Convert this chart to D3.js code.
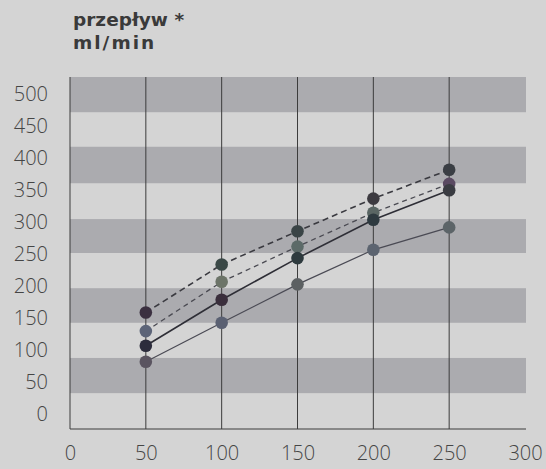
<!DOCTYPE html>
<html><head><meta charset="utf-8">
<script src="https://cdn.jsdelivr.net/npm/d3@7"></script>
<style>
html,body{margin:0;padding:0;background:#d3d3d3;}
svg{display:block;}
</style></head>
<body>
<script>
const xTicks = [0, 50, 100, 150, 200, 250, 300];
const yTicks = [0, 50, 100, 150, 200, 250, 300, 350, 400, 450, 500];
const xValues = [50, 100, 150, 200, 250];
const seriesA = [157, 232, 284, 335, 380]; // dashed, top
const seriesB = [128, 205, 260, 313, 358]; // dashed, second
const seriesC = [105, 177, 242, 302, 348]; // solid, dark
const seriesD = [80, 141, 201, 255, 290];  // solid, lower
const bandRanges = [[470, 525], [359, 416], [250, 303], [141, 195], [31, 86]];
const titleLines = ["przepływ *", "ml/min"];

const W = 546, H = 469;
const svg = d3.select("body").append("svg").attr("width", W).attr("height", H);

const x = d3.scaleLinear().domain([0, 300]).range([70, 525]);
const y = d3.scaleLinear().domain([-25, 525]).range([429, 77]);

// paper background
svg.append("rect").attr("width", W).attr("height", H).attr("fill", "#d4d4d4");

// bands
svg.selectAll("rect.band").data(bandRanges).join("rect")
  .attr("class", "band")
  .attr("x", x(0)).attr("width", 526 - x(0))
  .attr("y", d => y(d[1])).attr("height", d => y(d[0]) - y(d[1]))
  .attr("fill", "#ababaf");

// vertical grid lines
svg.selectAll("line.vg").data([0, 50, 100, 150, 200, 250]).join("line")
  .attr("class", "vg")
  .attr("x1", d => x(d)).attr("x2", d => x(d))
  .attr("y1", y(525)).attr("y2", y(-25))
  .attr("stroke", "#3c3c3c").attr("stroke-width", 1);

// bottom axis line
svg.append("line").attr("x1", x(0)).attr("x2", 526).attr("y1", y(-25)).attr("y2", y(-25))
  .attr("stroke", "#3c3c3c").attr("stroke-width", 1.2);

// y axis labels
const yAxis = d3.axisLeft(y).tickValues(yTicks).tickSize(0).tickPadding(0);
const gy = svg.append("g").attr("transform", "translate(48,0)").call(yAxis);
gy.select(".domain").remove();
gy.selectAll("text").attr("font-family", "'Open Sans', sans-serif").attr("font-weight", 300)
  .attr("font-size", 20).attr("fill", "#454545").attr("dy", "0.35em");

// x axis labels
const xAxis = d3.axisBottom(x).tickValues(xTicks).tickSize(0).tickPadding(0);
const gx = svg.append("g").attr("transform", "translate(0,446)").call(xAxis);
gx.select(".domain").remove();
gx.selectAll("text").attr("font-family", "'Open Sans', sans-serif").attr("font-weight", 300)
  .attr("font-size", 20).attr("fill", "#454545").attr("dy", "0.71em");

// series
const series = [
  {vals: seriesA, dash: "6,4", lc: "#3a3a40", lw: 1.6, colors: ["#3b3040", "#3a4846", "#3a4446", "#3c3a40", "#3a3e44"]},
  {vals: seriesB, dash: "5,4", lc: "#4a4a52", lw: 1.3, colors: ["#5c6478", "#6c7468", "#5c6a68", "#5a6664", "#5a4a62"]},
  {vals: seriesC, dash: null, lc: "#2e2e36", lw: 1.6, colors: ["#2c2c3c", "#3a2e3c", "#2e3a3e", "#2e3a40", "#3a3c42"]},
  {vals: seriesD, dash: null, lc: "#4a4a54", lw: 1.2, colors: ["#5a5460", "#5a6072", "#5c6062", "#5c6470", "#5c6468"]}
];
const line = d3.line().x((d, i) => x(xValues[i])).y(d => y(d));

series.forEach(s => {
  svg.append("path").datum(s.vals).attr("d", line)
    .attr("fill", "none").attr("stroke", s.lc).attr("stroke-width", s.lw)
    .attr("stroke-dasharray", s.dash);
});
series.forEach(s => {
  svg.append("g").selectAll("circle").data(s.vals).join("circle")
    .attr("cx", (d, i) => x(xValues[i])).attr("cy", d => y(d)).attr("r", 6.3)
    .attr("fill", (d, i) => s.colors[i]);
});

// title
const title = svg.append("g")
  .attr("font-family", "'DejaVu Sans', sans-serif").attr("font-weight", 700)
  .attr("font-size", 18.5).attr("fill", "#3a3a3a");
title.selectAll("text").data(titleLines).join("text")
  .attr("x", 73).attr("y", (d, i) => i === 0 ? 26 : 48.5)
  .attr("letter-spacing", (d, i) => i === 0 ? 0 : 2)
  .text(d => d);
</script>
</body></html>
